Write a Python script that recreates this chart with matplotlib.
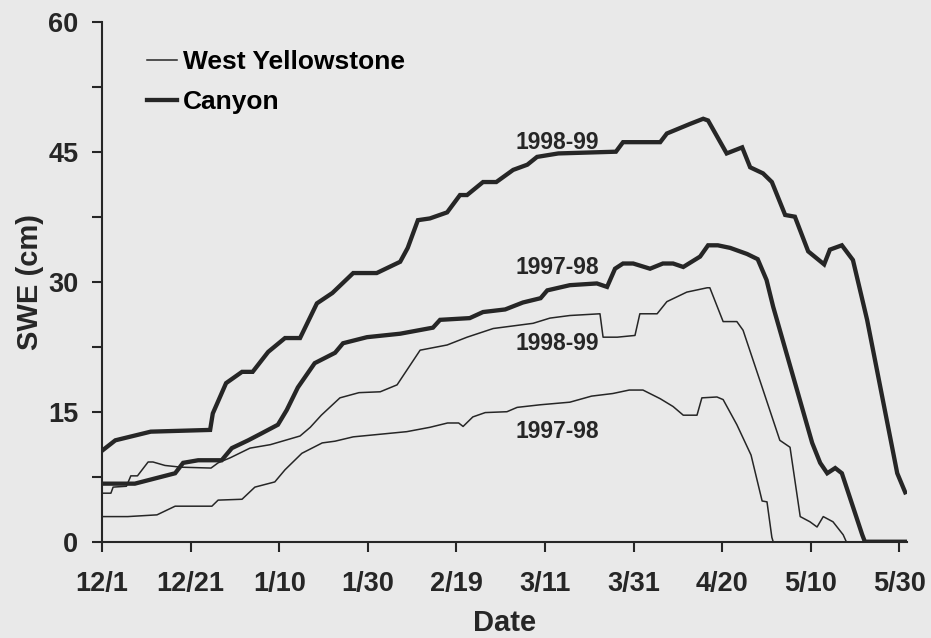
import matplotlib
matplotlib.use("Agg")
import matplotlib.pyplot as plt
from matplotlib.lines import Line2D

# days since 12/1, SWE in cm
canyon_9899_day = [0, 3, 11, 24.4, 25, 28, 31.6, 34, 37.5, 41.3, 44.7, 48.5, 52, 56.7, 62, 67.3, 69,
                   71.3, 74, 77.9, 80.8, 82.4, 86, 89, 92.8, 96, 98.2, 103, 116, 117.6, 126, 127.5,
                   132.7, 135.7, 136.8, 141, 144.5, 146.3, 149.2, 151.2, 154.2, 156.4, 159.4, 163,
                   164.3, 167, 169.5, 172.7, 179.5, 181.3]
canyon_9899_swe = [10.5, 11.7, 12.7, 12.9, 14.8, 18.3, 19.6, 19.6, 21.9, 23.5, 23.5, 27.5, 28.7, 31.0,
                   31.0, 32.3, 33.9, 37.1, 37.3, 38.0, 40.0, 40.0, 41.5, 41.5, 42.9, 43.5, 44.4, 44.8,
                   45.0, 46.1, 46.1, 47.1, 48.2, 48.8, 48.6, 44.8, 45.5, 43.2, 42.5, 41.5, 37.7, 37.5,
                   33.5, 32.0, 33.7, 34.2, 32.5, 25.6, 7.9, 5.7]

canyon_9798_day = [0, 7.4, 16.5, 18.3, 21.7, 27, 29.3, 33, 36, 39.7, 41.7, 44.2, 48, 52.6, 54.4, 59.8,
                   67.3, 74.7, 76.3, 83, 86, 91, 95, 99, 100.5, 105.6, 111.7, 114, 115.8, 117.6,
                   119.9, 123.7, 126.6, 128.9, 131.2, 135, 136.8, 139, 141.8, 145.6, 148, 150, 151.5,
                   160.3, 162.1, 163.7, 165.5, 167, 171.6, 172.2, 181.5]
canyon_9798_swe = [6.7, 6.7, 7.9, 9.1, 9.4, 9.4, 10.8, 11.7, 12.5, 13.5, 15.2, 17.8, 20.6, 21.8, 22.9,
                   23.6, 24.0, 24.7, 25.6, 25.8, 26.5, 26.8, 27.6, 28.1, 29.0, 29.6, 29.8, 29.4, 31.5,
                   32.1, 32.1, 31.5, 32.1, 32.1, 31.7, 32.9, 34.2, 34.2, 33.9, 33.2, 32.6, 30.2, 27.1,
                   11.4, 9.1, 7.9, 8.5, 7.9, 0.8, 0, 0]

wy_9899_day = [0, 2, 2.5, 5.5, 6.5, 8, 10.4, 11.5, 14.2, 17.8, 24.6, 26.2, 29, 33.4, 38, 44.7, 47,
               49.5, 53.7, 58, 62.8, 66.6, 71.8, 77.9, 82.4, 88.3, 97.3, 101.1, 105.6, 112.4, 113.1,
               116.3, 120.3, 121.4, 125.3, 127.5, 132, 136.6, 137.2, 140.2, 143.3, 144.7, 148.5, 153,
               155.3, 157.6, 159.8, 161.4, 162.8, 165, 167.3, 168]
wy_9899_swe = [5.6, 5.6, 6.3, 6.4, 7.6, 7.6, 9.2, 9.2, 8.8, 8.6, 8.5, 9.1, 9.7, 10.8, 11.2, 12.2, 13.2,
               14.6, 16.6, 17.2, 17.3, 18.1, 22.1, 22.7, 23.6, 24.6, 25.2, 25.8, 26.1, 26.3, 23.6,
               23.6, 23.8, 26.3, 26.3, 27.7, 28.8, 29.3, 29.3, 25.4, 25.4, 24.4, 18.6, 11.7, 10.9,
               2.9, 2.3, 1.7, 2.9, 2.3, 0.8, 0]

wy_9798_day = [0, 5.8, 12.4, 16.5, 24.8, 26.2, 31.6, 34.5, 39, 41.3, 45.1, 49.7, 52.6, 56.7, 68.8,
               74, 78, 80.5, 81.5, 83.7, 86.5, 91.4, 93.7, 98.9, 105.6, 110.5, 115.3, 119, 122.1,
               126, 128.9, 131.2, 134.3, 135.4, 138.8, 140.2, 143.3, 146.5, 149, 150.1, 151.2, 151.5]
wy_9798_swe = [2.9, 2.9, 3.1, 4.1, 4.1, 4.8, 4.9, 6.3, 6.9, 8.3, 10.2, 11.4, 11.6, 12.1, 12.7, 13.2,
               13.7, 13.7, 13.3, 14.4, 14.9, 15.0, 15.5, 15.8, 16.1, 16.8, 17.1, 17.5, 17.5, 16.5,
               15.6, 14.6, 14.6, 16.6, 16.7, 16.4, 13.5, 10.0, 4.7, 4.6, 0.5, 0]

tick_days = [0, 20, 40, 60, 80, 100, 120, 140, 160, 180]
tick_labels = ["12/1", "12/21", "1/10", "1/30", "2/19", "3/11", "3/31", "4/20", "5/10", "5/30"]

season_labels = ["1998-99", "1997-98", "1998-99", "1997-98"]
label_x = [102.7, 102.7, 102.7, 102.7]
label_y = [46.1, 31.6, 22.9, 12.7]

ink = "#262626"
bg = "#e9e9e9"
plt.rcParams["font.family"] = ["Liberation Sans", "DejaVu Sans"]
plt.rcParams["font.weight"] = "bold"

fig = plt.figure(figsize=(9.31, 6.38), dpi=100, facecolor=bg)
ax = fig.add_axes([0.1096, 0.1509, 0.8646, 0.8151], facecolor=bg)

thick = 3.1
thin = 1.1
ax.plot(canyon_9899_day, canyon_9899_swe, color=ink, lw=thick, solid_joinstyle="miter")
ax.plot(canyon_9798_day, canyon_9798_swe, color=ink, lw=thick, solid_joinstyle="miter")
ax.plot(wy_9899_day, wy_9899_swe, color=ink, lw=thin)
ax.plot(wy_9798_day, wy_9798_swe, color=ink, lw=thin)

for t, x, y in zip(season_labels, label_x, label_y):
    ax.text(x, y, t, ha="center", va="center", fontsize=16.5, fontweight="bold", color=ink)

ax.set_xlim(0, 181.7)
ax.set_ylim(0, 60)
ax.set_xticks(tick_days)
ax.set_xticklabels(tick_labels)
ax.set_yticks([0, 15, 30, 45, 60])
ax.set_yticks([7.5, 22.5, 37.5, 52.5], minor=True)

for s in ["top", "right"]:
    ax.spines[s].set_visible(False)
for s in ["left", "bottom"]:
    ax.spines[s].set_linewidth(1.5)
    ax.spines[s].set_color(ink)

ax.tick_params(axis="both", which="both", direction="out", length=7, width=1.5, color=ink,
               labelsize=19.5, labelcolor=ink)
ax.tick_params(axis="x", pad=14)
ax.tick_params(axis="y", pad=10)

ax.set_xlabel("Date", fontsize=21, fontweight="bold", color=ink, labelpad=9)
ax.set_ylabel("SWE (cm)", fontsize=21, fontweight="bold", color=ink, labelpad=3)

handles = [Line2D([], [], color=ink, lw=thin), Line2D([], [], color=ink, lw=thick)]
ax.legend(handles, ["West Yellowstone", "Canyon"], loc="upper left",
          bbox_to_anchor=(0.0559, 0.9456), frameon=False, borderpad=0, borderaxespad=0,
          handlelength=1.15, handletextpad=0.2, labelspacing=0.62,
          prop={"size": 19, "weight": "bold"})

fig.savefig("out.png", dpi=100, facecolor=bg)
